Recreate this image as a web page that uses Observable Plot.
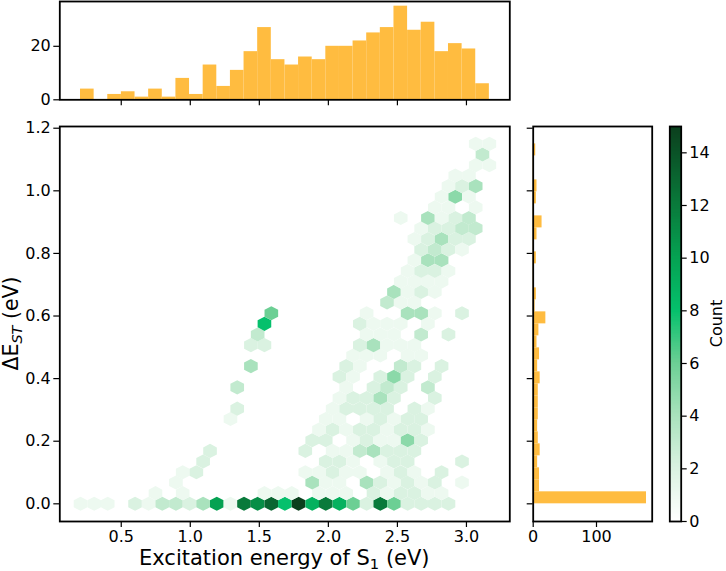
<!DOCTYPE html>
<html><head><meta charset="utf-8">
<script src="https://cdn.jsdelivr.net/npm/d3@7"></script>
<script src="https://cdn.jsdelivr.net/npm/@observablehq/plot@0.6"></script>
<style>
body{margin:0;background:#fff;}
#chart{position:relative;width:726px;height:571px;font-family:"DejaVu Sans",sans-serif;}
#chart > svg{position:absolute;left:0;top:0;}
</style></head><body><div id="chart"></div>
<script>
// ---------- data ----------
// top marginal histogram: counts per bin of excitation energy (eV)
const topCounts = [4,0,2,3,1,4,1,8,2,13,5,11,18,27,15,13,16,15,20,20,22,25,27,35,26,29,18,21,19,6];
const xBinStart = 0.205, xBinWidth = 0.0987;
// right marginal histogram: counts per bin of ΔE_ST (eV)
const rightCounts = [179,10,10,7,11,8,7,8,8,8,11,7,10,6,9,20,3,5,2,2,5,2,6,14,2,5,6,1,1,4];
const yBinStart = 0, yBinWidth = 0.03833;
// hexbin cells: row centre (ΔE_ST), cell centres (S1 energy) and counts
const hexRowStep = 0.033825;
const hexRowY = [0.000,0.034,0.068,0.101,0.135,0.169,0.203,0.237,0.271,0.304,0.338,0.372,0.406,0.440,0.474,0.507,0.541,0.575,0.609,0.643,0.677,0.710,0.744,0.778,0.812,0.846,0.880,0.913,0.947,0.981,1.015,1.049,1.082,1.116,1.150];
const hexRowX = [
 [0.205,0.304,0.402,0.600,0.698,0.797,0.896,0.995,1.093,1.192,1.291,1.389,1.488,1.587,1.685,1.784,1.883,1.981,2.080,2.179,2.277,2.376,2.475,2.574,2.672,2.771,2.870],
 [0.748,0.945,1.537,1.636,1.735,1.932,2.031,2.129,2.327,2.425,2.524,2.623,2.721,2.820],
 [0.896,1.883,1.981,2.080,2.277,2.376,2.475,2.574,2.672,2.771,2.968],
 [0.945,1.044,1.833,1.932,2.031,2.129,2.228,2.425,2.524,2.623,2.820],
 [1.093,1.981,2.080,2.179,2.376,2.475,2.574,2.968],
 [1.143,1.833,2.031,2.129,2.228,2.327,2.425,2.524,2.623],
 [1.883,1.981,2.179,2.277,2.376,2.475,2.574,2.672],
 [1.932,2.031,2.129,2.228,2.327,2.425,2.524,2.623,2.721],
 [1.291,1.981,2.080,2.277,2.376,2.475,2.574,2.672],
 [1.340,2.031,2.129,2.228,2.327,2.425,2.623,2.721],
 [2.080,2.179,2.277,2.376,2.475,2.771],
 [1.340,2.129,2.327,2.425,2.524,2.721],
 [2.080,2.179,2.376,2.475,2.574,2.771],
 [1.439,2.129,2.228,2.524,2.623,2.820],
 [2.179,2.277,2.376,2.574,2.672],
 [1.439,1.537,2.228,2.327,2.425,2.524,2.623],
 [1.488,2.277,2.376,2.475,2.672,2.870],
 [1.537,2.228,2.327,2.425,2.524,2.721],
 [1.587,2.277,2.574,2.672,2.771,2.968],
 [2.425,2.524,2.623],
 [2.475,2.574,2.672,2.771],
 [2.524,2.623,2.721,2.820],
 [2.574,2.672,2.771,2.870],
 [2.623,2.721,2.820],
 [2.672,2.771,2.870,2.968],
 [2.623,2.721,2.820,2.919,3.018],
 [2.672,2.771,2.870,2.968,3.067],
 [2.524,2.721,2.820,2.919,3.018],
 [2.771,2.870,3.067],
 [2.820,2.919,3.018],
 [2.870,2.968,3.067],
 [2.919,3.018],
 [3.067,3.166],
 [3.116],
 [3.067,3.166]
];
const hexRowN = [
 [1,1,1,2,1,3,3,2,4,10,1,12,11,13,8,15,9,12,9,6,2,12,6,2,2,2,2],
 [1,1,1,1,1,1,1,1,2,1,2,2,1,1],
 [1,4,1,1,4,2,1,2,1,2,1],
 [1,2,1,1,2,1,1,1,2,1,2],
 [2,2,2,1,1,2,2,2],
 [2,2,1,1,3,4,2,2,2],
 [2,2,1,2,1,1,5,2],
 [1,2,1,2,2,1,2,2,1],
 [1,1,1,1,2,1,2,2],
 [2,1,2,2,2,2,2,1],
 [1,2,2,4,2,2],
 [3,1,2,3,2,3],
 [2,1,2,5,2,2],
 [4,2,1,3,2,2],
 [1,1,1,1,1],
 [2,2,2,4,1,1,1],
 [3,1,1,1,3,2],
 [8,2,1,1,1,1],
 [6,1,4,4,1,2],
 [3,1,1],
 [4,1,2,1],
 [1,1,1,1],
 [1,2,2,1],
 [1,4,4],
 [2,3,2,1],
 [1,2,4,2,2],
 [1,2,2,3,3],
 [1,4,1,2,3],
 [1,1,1],
 [1,5,1],
 [1,2,4],
 [1,1],
 [1,1],
 [3],
 [1,1]
];
// ticks
const xTicks = [0.5,1.0,1.5,2.0,2.5,3.0];
const yTicks = [0.0,0.2,0.4,0.6,0.8,1.0,1.2];
const topTicks = [0,20];
const rightTicks = [0,100];
const colorTicks = [0,2,4,6,8,10,12,14];
// colour map (count -> colour)
const colorStops = [0,2,4,6,8,10,12,15];
const colorStopColors = ["#ffffff","#daf2e1","#a9e2bd","#6ccf94","#05c06c","#05a252","#097a3b","#0b3f1d"];
const barColor = "#ffbc40";

// ---------- layout ----------
const W = 726, H = 571;
const mainBox = {left:59.3, right:509.3, top:126, bottom:521};
const topBox = {left:59.3, right:509.3, top:1, bottom:99.3};
const rightBox = {left:532.7, right:651.7, top:126, bottom:521};
const cbarBox = {left:669.3, right:680.7, top:126, bottom:521};
const xDomain = [0.055, 3.314], yDomain = [-0.0565, 1.2055];
const font = "'DejaVu Sans', sans-serif";
const tickFont = 16;

function box(b){ return {width:W, height:H, marginLeft:b.left, marginRight:W-b.right, marginTop:b.top, marginBottom:H-b.bottom,
  style:{background:"transparent", fontFamily:font, fontSize:tickFont+"px", overflow:"visible", color:"black"}}; }
const frame = () => Plot.frame({stroke:"black", strokeWidth:1.8});
const colorScale = {type:"linear", domain:colorStops, range:colorStopColors, interpolate:"rgb"};

const chart = document.getElementById("chart");

// main hexbin
const cells = [];
hexRowY.forEach((y,k)=>hexRowX[k].forEach((x,i)=>cells.push({x, y, n:hexRowN[k][i]})));
const pxX = (mainBox.right-mainBox.left)/(xDomain[1]-xDomain[0]);
const pxY = (mainBox.bottom-mainBox.top)/(yDomain[1]-yDomain[0]);
const hexRx = xBinWidth/2*pxX;
const hexRy = (2*hexRowStep)/3*pxY;
const hexSymbol = {draw(ctx, size){
  const rx = Math.sqrt(size/Math.PI), ry = rx*hexRy/hexRx;
  ctx.moveTo(0,-ry); ctx.lineTo(rx,-ry/2); ctx.lineTo(rx,ry/2);
  ctx.lineTo(0,ry); ctx.lineTo(-rx,ry/2); ctx.lineTo(-rx,-ry/2); ctx.closePath();
}};

chart.appendChild(Plot.plot({...box(mainBox),
  x:{domain:xDomain, label:null}, y:{domain:yDomain, label:null}, color:colorScale,
  marks:[
    Plot.dot(cells,{x:"x", y:"y", fill:"n", r:hexRx, symbol:hexSymbol}),
    Plot.axisX({ticks:xTicks, tickFormat:d3.format(".1f"), tickSize:6, tickPadding:3, strokeWidth:1.2, fontSize:tickFont, label:null}),
    Plot.axisY({ticks:yTicks, tickFormat:d3.format(".1f"), tickSize:6, tickPadding:3, strokeWidth:1.2, fontSize:tickFont, label:null}),
    frame()
  ]}));

// top histogram
const topBins = topCounts.map((c,i)=>({x1:xBinStart+i*xBinWidth, x2:xBinStart+(i+1)*xBinWidth, c}));
chart.appendChild(Plot.plot({...box(topBox),
  x:{domain:xDomain, label:null}, y:{domain:[0,36.75], label:null},
  marks:[
    Plot.rectY(topBins,{x1:"x1", x2:"x2", y:"c", fill:barColor, inset:0}),
    Plot.axisX({ticks:xTicks, tickFormat:()=>"", tickSize:6, strokeWidth:1.2, label:null}),
    Plot.axisY({ticks:topTicks, tickSize:6, tickPadding:3, strokeWidth:1.2, fontSize:tickFont, label:null}),
    frame()
  ]}));

// right histogram
const rightBins = rightCounts.map((c,i)=>({y1:yBinStart+i*yBinWidth, y2:yBinStart+(i+1)*yBinWidth, c}));
chart.appendChild(Plot.plot({...box(rightBox),
  x:{domain:[0,188], label:null}, y:{domain:yDomain, label:null},
  marks:[
    Plot.rectX(rightBins,{y1:"y1", y2:"y2", x:"c", fill:barColor, inset:0}),
    Plot.axisX({ticks:rightTicks, tickSize:6, tickPadding:3, strokeWidth:1.2, fontSize:tickFont, label:null}),
    Plot.axisY({ticks:yTicks, tickFormat:()=>"", tickSize:6, strokeWidth:1.2, label:null}),
    frame()
  ]}));

// colour bar (continuous ramp of the colour scale)
const ramp = d3.range(0, 15, 0.05).map(v=>({v}));
chart.appendChild(Plot.plot({...box(cbarBox),
  y:{domain:[0,15], label:null}, color:colorScale,
  marks:[
    Plot.rect(ramp,{y1:"v", y2:d=>Math.min(15,d.v+0.2), fill:d=>d.v+0.025, inset:0, shapeRendering:"crispEdges"}),
    Plot.axisY({anchor:"right", ticks:colorTicks, tickSize:5, tickPadding:3, strokeWidth:1.2, fontSize:tickFont, label:null}),
    frame()
  ]}));

// axis titles
const ov = d3.create("svg").attr("width",W).attr("height",H).style("font-family",font);
const xl = ov.append("text").attr("x",(mainBox.left+mainBox.right)/2).attr("y",565).attr("text-anchor","middle").attr("font-size",21);
xl.append("tspan").text("Excitation energy of S");
xl.append("tspan").attr("font-size",14.7).attr("dy",3.5).text("1");
xl.append("tspan").attr("dy",-3.5).text(" (eV)");
const yl = ov.append("text").attr("transform",`translate(18,${(mainBox.top+mainBox.bottom)/2}) rotate(-90)`).attr("text-anchor","middle").attr("font-size",20.5);
yl.append("tspan").text("ΔE");
yl.append("tspan").attr("font-size",14.4).attr("font-style","italic").attr("dy",4).text("ST");
yl.append("tspan").attr("dy",-4).text(" (eV)");
ov.append("text").attr("transform",`translate(722,${(mainBox.top+mainBox.bottom)/2}) rotate(-90)`).attr("text-anchor","middle").attr("font-size",16).text("Count");
chart.appendChild(ov.node());
</script></body></html>
